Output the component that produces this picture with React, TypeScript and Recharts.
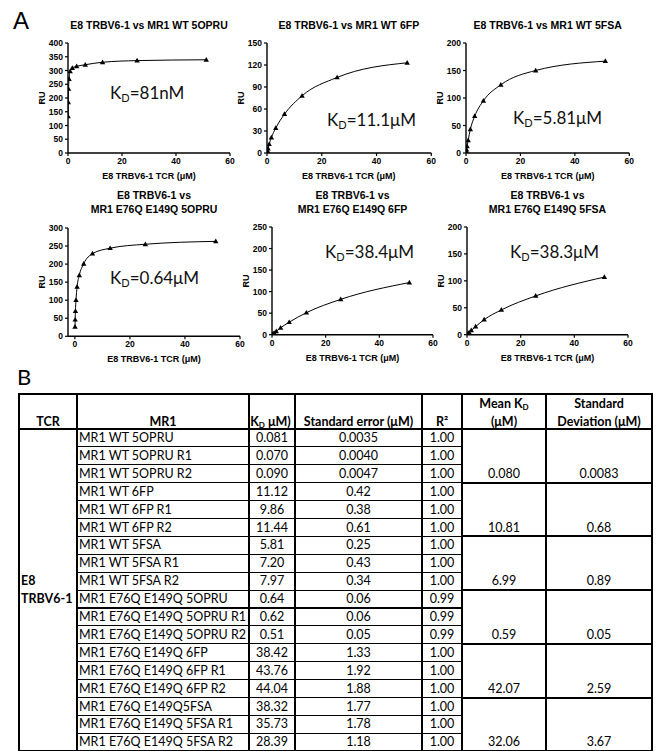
import React from 'react';
import { ComposedChart, Line, XAxis, YAxis } from 'recharts';

// TCR concentrations (uM), two-fold dilution series
const concLong = [0.05, 0.1, 0.2, 0.4, 0.8, 1.6, 3.2, 6.4, 12.8, 25.6, 51.2];
const concMid = [0.1, 0.2, 0.4, 0.8, 1.6, 3.2, 6.4, 12.8, 25.6, 51.2];
const concShort = [0.2, 0.4, 0.8, 1.6, 3.2, 6.4, 12.8, 25.6, 51.2];

// response units
const ruWt5opru = [133, 184, 233, 269, 297, 309, 315, 321, 330, 336, 339];
const ruWt6fp = [1.5, 3, 6, 12, 21, 34, 53, 78, 103, 123];
const ruWt5fsa = [3, 6, 12, 23, 43, 67, 95, 124, 150, 167];
const ruMut5opru = [26, 46, 70, 100, 137, 169, 201, 229, 244, 255, 263];
const ruMut6fp = [1, 2, 4, 8, 16, 29, 51, 82, 121];
const ruMut5fsa = [1, 2, 4, 8, 15, 28, 46, 72, 107];

const xTicks = [0, 20, 40, 60];
const yTicks400 = [0, 50, 100, 150, 200, 250, 300, 350, 400];
const yTicks150 = [0, 30, 60, 90, 120, 150];
const yTicks200 = [0, 50, 100, 150, 200];
const yTicks300 = [0, 50, 100, 150, 200, 250, 300];
const yTicks250 = [0, 50, 100, 150, 200, 250];

const xLabel = 'E8 TRBV6-1 TCR (μM)';

// table B
const mr1Labels = [
  'MR1 WT 5OPRU', 'MR1 WT 5OPRU R1', 'MR1 WT 5OPRU R2',
  'MR1 WT 6FP', 'MR1 WT 6FP R1', 'MR1 WT 6FP R2',
  'MR1 WT 5FSA', 'MR1 WT 5FSA R1', 'MR1 WT 5FSA R2',
  'MR1 E76Q E149Q 5OPRU', 'MR1 E76Q E149Q 5OPRU R1', 'MR1 E76Q E149Q 5OPRU R2',
  'MR1 E76Q E149Q 6FP', 'MR1 E76Q E149Q 6FP R1', 'MR1 E76Q E149Q 6FP R2',
  'MR1 E76Q E149Q5FSA', 'MR1 E76Q E149Q 5FSA R1', 'MR1 E76Q E149Q 5FSA R2',
];
const kdValues = ['0.081', '0.070', '0.090', '11.12', '9.86', '11.44', '5.81', '7.20', '7.97',
  '0.64', '0.62', '0.51', '38.42', '43.76', '44.04', '38.32', '35.73', '28.39'];
const seValues = ['0.0035', '0.0040', '0.0047', '0.42', '0.38', '0.61', '0.25', '0.43', '0.34',
  '0.06', '0.06', '0.05', '1.33', '1.92', '1.88', '1.77', '1.78', '1.18'];
const r2Values = ['1.00', '1.00', '1.00', '1.00', '1.00', '1.00', '1.00', '1.00', '1.00',
  '0.99', '0.99', '0.99', '1.00', '1.00', '1.00', '1.00', '1.00', '1.00'];
const meanValues = ['0.080', '10.81', '6.99', '0.59', '42.07', '32.06'];
const sdValues = ['0.0083', '0.68', '0.89', '0.05', '2.59', '3.67'];

const panels = [
  { title: ['E8 TRBV6-1 vs MR1 WT 5OPRU'], conc: concLong, ru: ruWt5opru, yMax: 400, yTicks: yTicks400,
    px: 68, py: 43.3, pw: 162, ph: 110, xMin: 0, kd: '81nM', kdX: 110, kdY: 93 },
  { title: ['E8 TRBV6-1 vs MR1 WT 6FP'], conc: concMid, ru: ruWt6fp, yMax: 150, yTicks: yTicks150,
    px: 266.7, py: 43.3, pw: 164.3, ph: 110, xMin: 0, kd: '11.1μM', kdX: 327, kdY: 120 },
  { title: ['E8 TRBV6-1 vs MR1 WT 5FSA'], conc: concMid, ru: ruWt5fsa, yMax: 200, yTicks: yTicks200,
    px: 466, py: 43.3, pw: 163.3, ph: 110, xMin: 0, kd: '5.81μM', kdX: 513, kdY: 118 },
  { title: ['E8 TRBV6-1 vs', 'MR1 E76Q E149Q 5OPRU'], conc: concLong, ru: ruMut5opru, yMax: 300, yTicks: yTicks300,
    px: 68, py: 227.7, pw: 172, ph: 108.3, xMin: -2.5, kd: '0.64μM', kdX: 110, kdY: 278 },
  { title: ['E8 TRBV6-1 vs', 'MR1 E76Q E149Q 6FP'], conc: concShort, ru: ruMut6fp, yMax: 250, yTicks: yTicks250,
    px: 272, py: 227.3, pw: 161, ph: 107.7, xMin: 0, kd: '38.4μM', kdX: 325, kdY: 252 },
  { title: ['E8 TRBV6-1 vs', 'MR1 E76Q E149Q 5FSA'], conc: concShort, ru: ruMut5fsa, yMax: 200, yTicks: yTicks200,
    px: 467, py: 227.3, pw: 161, ph: 107.7, xMin: 0, kd: '38.3μM', kdX: 510, kdY: 252 },
];

const arial = '"Liberation Sans", Arial, sans-serif';
const calibri = 'Lato, "Open Sans", sans-serif';

const tickStyle = { fontFamily: arial, fontSize: 8.5, fontWeight: 700, fill: '#000' };

const Tri = (p: any) => {
  const { cx, cy, index } = p;
  if (cx == null || cy == null) return <g key={index} />;
  return <path key={index} d={`M${cx},${cy - 2.8}L${cx + 2.7},${cy + 1.9}L${cx - 2.7},${cy + 1.9}Z`} fill="#000" />;
};

function Panel({ cfg }: { cfg: any }) {
  const padL = 40, padT = 8, padR = 8, xh = 22;
  const data = cfg.conc.map((c: number, i: number) => ({ conc: c, ru: cfg.ru[i] }));
  const cx = cfg.px + cfg.pw / 2;
  const n = cfg.title.length;
  return (
    <>
      <div style={{ position: 'absolute', left: cfg.px - padL, top: cfg.py - padT }}>
        <ComposedChart width={cfg.pw + padL + padR} height={cfg.ph + padT + xh} data={data}
          margin={{ top: padT, right: padR, left: 0, bottom: 0 }}>
          <XAxis type="number" dataKey="conc" domain={[cfg.xMin, 60]} ticks={xTicks} interval={0}
            allowDataOverflow height={xh} tick={tickStyle} tickSize={3} tickMargin={2}
            axisLine={{ stroke: '#000', strokeWidth: 1.4 }} tickLine={{ stroke: '#000', strokeWidth: 1.2 }} />
          <YAxis type="number" domain={[0, cfg.yMax]} ticks={cfg.yTicks} interval={0} width={padL}
            allowDataOverflow tick={tickStyle} tickSize={3} tickMargin={2}
            axisLine={{ stroke: '#000', strokeWidth: 1.4 }} tickLine={{ stroke: '#000', strokeWidth: 1.2 }} />
          <Line type="monotone" dataKey="ru" stroke="#000" strokeWidth={1} dot={Tri}
            activeDot={false} isAnimationActive={false} />
        </ComposedChart>
      </div>
      {cfg.title.map((t: string, i: number) => (
        <div key={t} style={{
          position: 'absolute', left: cx - 90, width: 180, top: cfg.py - 18.5 - (n - 1 - i) * 14 - 7,
          height: 14, lineHeight: '14px', textAlign: 'center', fontFamily: arial, fontWeight: 700,
          fontSize: 10.5, color: '#000', whiteSpace: 'nowrap',
        }}>{t}</div>
      ))}
      <div style={{
        position: 'absolute', left: cfg.px - 26 - 10, top: cfg.py + cfg.ph / 2 - 6, width: 20, height: 12,
        lineHeight: '12px', textAlign: 'center', transform: 'rotate(-90deg)', fontFamily: arial,
        fontWeight: 700, fontSize: 9, color: '#000',
      }}>RU</div>
      <div style={{
        position: 'absolute', left: cfg.px + cfg.pw / 2 - 70, width: 140, top: cfg.py + cfg.ph + 22.7 - 6,
        height: 12, lineHeight: '12px', textAlign: 'center', fontFamily: arial, fontWeight: 700,
        fontSize: 9, color: '#000', whiteSpace: 'nowrap',
      }}>{xLabel}</div>
      <div style={{
        position: 'absolute', left: cfg.kdX, top: cfg.kdY - 11, height: 22, lineHeight: '22px',
        fontFamily: calibri, fontSize: 17, color: '#111', whiteSpace: 'nowrap',
      }}>K<sub style={{ fontSize: 11, verticalAlign: '-3px', lineHeight: 0 }}>D</sub>={cfg.kd}</div>
    </>
  );
}

// table geometry
const colX = [19, 77, 249, 295, 422, 462, 546, 652];
const vThick = [2, 2, 1.3, 1.3, 1.3, 2, 2, 2];
const tTop = 394, hBot = 429, rowH = 17.9;

function Cell({ c, y, h, align = 'center', bold = false, children }: any) {
  const x0 = colX[c], x1 = colX[c + 1];
  return (
    <div style={{
      position: 'absolute', left: x0 + 2, width: x1 - x0 - 4, top: y, height: h, lineHeight: `${h}px`,
      textAlign: align, fontWeight: bold ? 700 : 400, whiteSpace: 'nowrap',
    }}>{children}</div>
  );
}

function KdTable() {
  const rowsBot = hBot + rowH * mr1Labels.length;
  const lines: React.ReactNode[] = [];
  const hl = (x1: number, x2: number, y: number, t: number, k: string) =>
    lines.push(<div key={k} style={{ position: 'absolute', left: x1 - 1, width: x2 - x1 + 2, top: y - t / 2, height: t, background: '#000' }} />);
  hl(colX[0], colX[7], tTop, 2, 'top');
  hl(colX[0], colX[7], hBot, 2, 'hb');
  mr1Labels.forEach((_, i) => {
    if (i === 0) return;
    const y = hBot + i * rowH;
    hl(colX[1], colX[5], y, 1.2, `r${i}`);
    if (i % 3 === 0) hl(colX[5], colX[7], y, 2, `g${i}`);
  });
  hl(colX[0], colX[7], rowsBot, 2, 'bot');
  colX.forEach((x, i) => lines.push(
    <div key={`v${i}`} style={{ position: 'absolute', left: x - vThick[i] / 2, width: vThick[i], top: tTop - 1, height: rowsBot - tTop + 2, background: '#000' }} />
  ));
  const sub = { fontSize: 8, lineHeight: 0, verticalAlign: '-2px' } as React.CSSProperties;
  return (
    <div style={{ position: 'absolute', left: 0, top: 0, fontFamily: calibri, fontSize: 12.5, color: '#000' }}>
      <Cell c={0} y={413} h={18} bold>TCR</Cell>
      <Cell c={1} y={413} h={18} bold>MR1</Cell>
      <Cell c={2} y={413} h={18} bold><span style={{ marginLeft: -3 }}>K<sub style={sub}>D</sub> μM)</span></Cell>
      <Cell c={3} y={413} h={18} bold>Standard error (μM)</Cell>
      <Cell c={4} y={413} h={18} bold>R²</Cell>
      <Cell c={5} y={395} h={18} bold>Mean K<sub style={sub}>D</sub></Cell>
      <Cell c={5} y={413} h={18} bold>(μM)</Cell>
      <Cell c={6} y={395} h={18} bold>Standard</Cell>
      <Cell c={6} y={413} h={18} bold>Deviation (μM)</Cell>
      <div style={{ position: 'absolute', left: 21, top: hBot + 8 * rowH, lineHeight: `${rowH}px`, fontWeight: 700, whiteSpace: 'nowrap' }}>
        E8<br />TRBV6-1
      </div>
      {mr1Labels.map((lab, i) => {
        const y = hBot + i * rowH;
        return (
          <React.Fragment key={lab}>
            <Cell c={1} y={y} h={rowH} align="left">{lab}</Cell>
            <Cell c={2} y={y} h={rowH}>{kdValues[i]}</Cell>
            <Cell c={3} y={y} h={rowH}>{seValues[i]}</Cell>
            <Cell c={4} y={y} h={rowH}>{r2Values[i]}</Cell>
          </React.Fragment>
        );
      })}
      {meanValues.map((m, g) => {
        const y = hBot + (g * 3 + 2) * rowH;
        return (
          <React.Fragment key={g}>
            <Cell c={5} y={y} h={rowH}>{m}</Cell>
            <Cell c={6} y={y} h={rowH}>{sdValues[g]}</Cell>
          </React.Fragment>
        );
      })}
      {lines}
    </div>
  );
}

export default function App() {
  return (
    <div style={{ position: 'absolute', left: 0, top: 0, width: 662, height: 751, overflow: 'hidden', background: '#fff' }}>
      <div style={{ position: 'absolute', left: 13, top: 8.6, fontFamily: arial, fontSize: 24, lineHeight: '24px', color: '#000' }}>A</div>
      {panels.map((p, i) => <Panel key={i} cfg={p} />)}
      <div style={{ position: 'absolute', left: 17, top: 366, fontFamily: calibri, fontSize: 22, lineHeight: '22px', color: '#000' }}>B</div>
      <KdTable />
    </div>
  );
}
